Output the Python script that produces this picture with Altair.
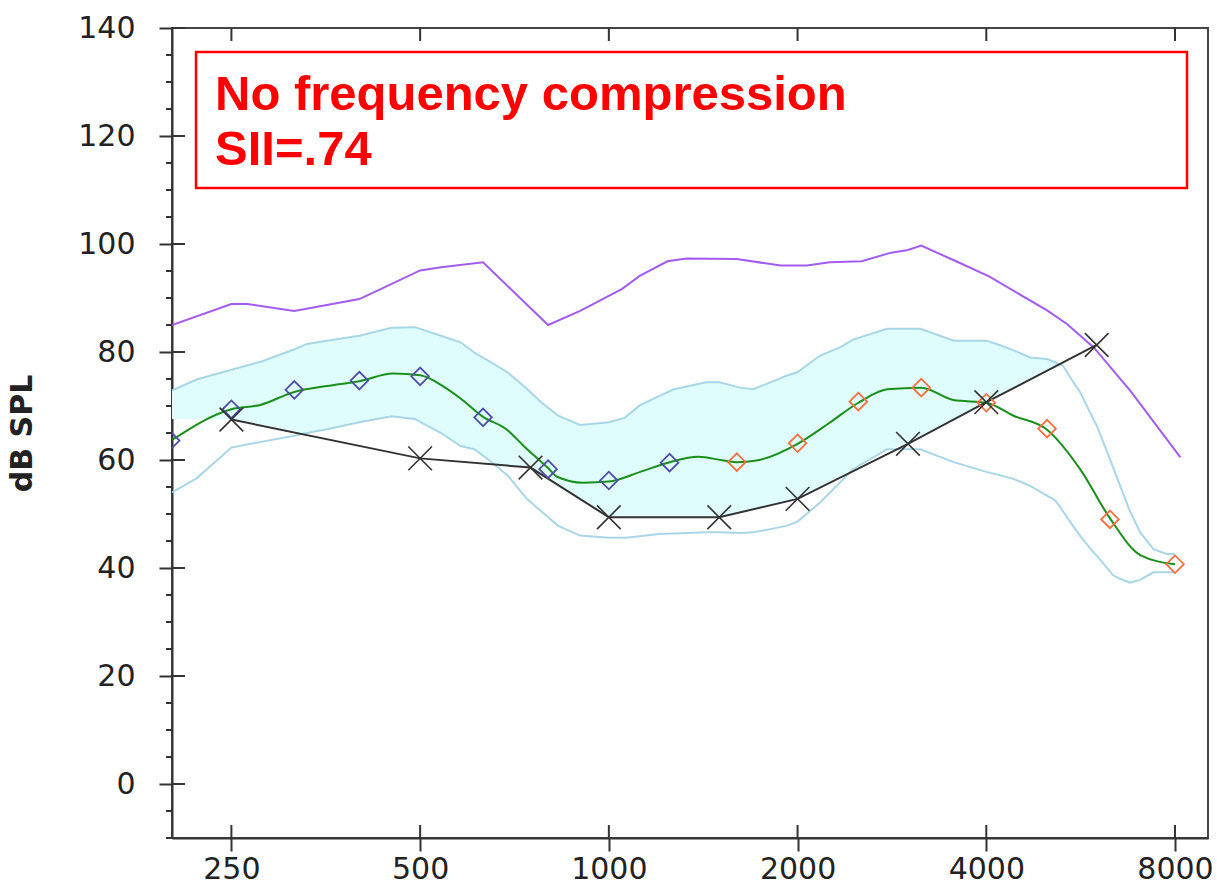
import altair as alt
import pandas as pd

# ---------------- data (frequency in Hz, level in dB SPL) -------------
band_freq = [201, 220, 250, 280, 315, 330, 355, 400, 450, 490,
             540, 580, 610, 655, 690, 740, 780, 830, 900, 1000,
             1060, 1120, 1200, 1270, 1430, 1500, 1620, 1700, 1920, 2000,
             2170, 2350, 2450, 2780, 3000, 3140, 3550, 4000, 4200, 4420,
             4700, 5000, 5150, 5230, 5300, 5500, 5650, 5930, 6000, 6380,
             6540, 6780, 7040, 7390, 7760, 8000]
band_upper = [72.9, 74.9, 76.7, 78.3, 80.5, 81.5, 82.1, 83.0, 84.5, 84.6,
              83.0, 81.8, 79.9, 77.8, 76.2, 73.2, 70.7, 68.2, 66.5, 67.0,
              67.8, 70.1, 71.8, 73.1, 74.4, 74.4, 73.4, 73.1, 75.6, 76.3,
              79.3, 81.0, 82.3, 84.3, 84.3, 84.3, 82.1, 82.1, 81.3, 80.3,
              79.0, 78.7, 78.1, 77.7, 77.5, 74.5, 72.5, 67.5, 66.4, 58.5,
              55.2, 50.5, 46.6, 43.5, 42.6, 42.6]
band_lower = [54.0, 56.6, 62.3, 63.4, 64.5, 65.0, 65.7, 67.0, 68.1, 67.6,
              65.0, 62.6, 62.0, 59.3, 57.1, 52.8, 50.5, 47.8, 46.0, 45.6,
              45.6, 45.9, 46.3, 46.4, 46.6, 46.6, 46.5, 46.6, 47.8, 48.6,
              52.1, 56.1, 58.3, 62.0, 62.0, 62.0, 59.6, 57.8, 57.2, 56.5,
              55.2, 53.4, 52.5, 51.5, 50.5, 47.8, 45.9, 42.9, 42.3, 38.6,
              38.0, 37.3, 37.8, 39.2, 39.2, 39.2]
# lower edge of the shaded (audible) part of the band; None where nothing is shaded
audible_floor = [67.6, 67.6, 67.5, 66.3, 65.1, 65.0, 65.7, 67.0, 68.1, 67.6,
                 65.0, 62.6, 62.0, 59.3, 59.0, 58.7, 57.3, 55.4, 52.8, 49.4,
                 49.4, 49.4, 49.4, 49.4, 49.4, 49.4, 50.3, 50.9, 52.3, 52.8,
                 54.9, 56.9, 58.3, 62.0, 63.0, 64.2, 67.5, 70.7, 71.9, 73.3,
                 74.8, 76.4, 77.2, 77.7, None, None, None, None, None, None,
                 None, None, None, None, None, None]

ucl_freq = [201, 250, 265, 315, 400, 430, 500, 540, 630, 800,
            900, 1050, 1120, 1240, 1330, 1600, 1880, 2070, 2250, 2530,
            2820, 3000, 3150, 3580, 4040, 5000, 5380, 5940, 6800, 8160]
ucl_db = [85.0, 88.9, 88.9, 87.6, 89.8, 91.5, 95.1, 95.7, 96.6, 85.0,
          87.6, 91.7, 94.1, 96.8, 97.3, 97.2, 96.0, 96.0, 96.6, 96.8,
          98.4, 98.9, 99.7, 96.8, 94.0, 87.7, 85.2, 80.8, 72.7, 60.5]

ltass_freq = [201, 250, 278, 315, 355, 400, 453, 500, 545, 580,
              630, 688, 730, 800, 827, 910, 1000, 1122, 1250, 1390,
              1525, 1600, 1720, 2000, 2250, 2500, 2780, 3150, 3545, 4000,
              4420, 5000, 5645, 6300, 7040, 8000]
ltass_db = [63.7, 69.4, 70.2, 72.6, 73.7, 74.6, 76.0, 75.7, 73.6, 71.4,
            68.0, 65.6, 62.7, 58.5, 56.9, 55.8, 56.0, 57.8, 59.6, 60.6,
            59.9, 59.6, 59.9, 63.0, 66.9, 70.6, 73.1, 73.4, 71.1, 70.6,
            68.2, 65.6, 58.3, 49.2, 42.4, 40.7]

marker_freq = [200, 250, 315, 400, 500, 630, 800, 1000, 1250,
               1600, 2000, 2500, 3150, 4000, 5000, 6300, 8000]
marker_db = [63.6, 69.4, 73.0, 74.7, 75.5, 67.9, 58.3, 56.2, 59.5,
             59.6, 63.1, 70.8, 73.4, 70.6, 65.8, 49.0, 40.7]
marker_group = ["low"] * 9 + ["high"] * 8

thresh_freq = [250, 500, 750, 1000, 1500, 2000, 3000, 4000, 6000]
thresh_db = [67.5, 60.3, 58.6, 49.4, 49.4, 52.8, 63.0, 70.7, 81.3]

x_ticks = [250, 500, 1000, 2000, 4000, 8000]
y_ticks = [0, 20, 40, 60, 80, 100, 120, 140]
y_minor = [-10, -5, 5, 10, 15, 25, 30, 35, 45, 50, 55, 65, 70, 75,
           85, 90, 95, 105, 110, 115, 125, 130, 135]
annotation_lines = ["No frequency compression", "SII=.74"]

# ---------------- chart ----------------
W, H = 1036, 810
xscale = alt.Scale(type="log", domain=[201, 9030])
yscale = alt.Scale(domain=[-10, 140], nice=False, zero=False)
xaxis = alt.Axis(values=x_ticks, format="d", title=None, grid=False,
                 tickSize=13, tickWidth=2, tickColor="#333", domainColor="#333",
                 domainWidth=2, labelFont="DejaVu Sans", labelFontSize=30,
                 labelColor="#222", labelPadding=3, labelFlush=False,
                 labelOverlap=False)
yaxis = alt.Axis(values=y_ticks, title="dB SPL", grid=False,
                 tickSize=13, tickWidth=2, tickColor="#333", domainColor="#333",
                 domainWidth=2, labelFont="DejaVu Sans", labelFontSize=30,
                 labelColor="#222", labelPadding=24, labelFlush=False,
                 labelOverlap=False, titleFont="DejaVu Sans", titleFontSize=30,
                 titleFontWeight="bold", titleColor="#222", titleAngle=270,
                 titleX=-150, titleY=405, titleAlign="center",
                 titleBaseline="middle")

X = alt.X("freq:Q", scale=xscale, axis=xaxis)
Y = alt.Y("db:Q", scale=yscale, axis=yaxis)

band = pd.DataFrame({"freq": band_freq, "db": band_upper, "lower": band_lower,
                     "floor": audible_floor})
fill_df = band.dropna(subset=["floor"])

fill = alt.Chart(fill_df).mark_area(color="#dffdfd", opacity=1, clip=True).encode(
    x=X, y=Y, y2=alt.Y2("floor:Q"))
upper_line = alt.Chart(band).mark_line(color="#a9d6e6", strokeWidth=2, clip=True).encode(
    x=X, y=Y)
lower_line = alt.Chart(band).mark_line(color="#a9d6e6", strokeWidth=2, clip=True).encode(
    x=X, y=alt.Y("lower:Q", scale=yscale, axis=yaxis))

ucl = alt.Chart(pd.DataFrame({"freq": ucl_freq, "db": ucl_db})).mark_line(
    color="#a35cf0", strokeWidth=2, clip=True).encode(x=X, y=Y)

ltass = alt.Chart(pd.DataFrame({"freq": ltass_freq, "db": ltass_db})).mark_line(
    color="#1a8f1a", strokeWidth=2, interpolate="monotone", clip=True).encode(x=X, y=Y)

thresh_df = pd.DataFrame({"freq": thresh_freq, "db": thresh_db})
thresh_line = alt.Chart(thresh_df).mark_line(color="#333333", strokeWidth=2).encode(x=X, y=Y)
thresh_pts = alt.Chart(thresh_df).mark_point(
    shape="M-1,-1L1,1M-1,1L1,-1", size=560, filled=False, stroke="#333333",
    strokeWidth=1.6, opacity=1).encode(x=X, y=Y)

markers = alt.Chart(pd.DataFrame({"freq": marker_freq, "db": marker_db,
                                  "grp": marker_group})).mark_point(
    shape="diamond", size=310, filled=False, strokeWidth=1.8, opacity=1, clip=True).encode(
    x=X, y=Y,
    color=alt.Color("grp:N", scale=alt.Scale(domain=["low", "high"],
                                             range=["#4e4ea8", "#f5703f"]), legend=None))

# tick decorations (inner halves of the crossing ticks, top ticks, minor y ticks)
xt = pd.DataFrame({"freq": x_ticks})
yt = pd.DataFrame({"db": y_ticks})
ym = pd.DataFrame({"db": y_minor})
x_in = alt.Chart(xt).mark_rule(color="#333", strokeWidth=2).encode(
    x=X, y=alt.value(H), y2=alt.value(H - 13))
x_top = alt.Chart(xt).mark_rule(color="#333", strokeWidth=2).encode(
    x=X, y=alt.value(0), y2=alt.value(13))
y_in = alt.Chart(yt).mark_rule(color="#333", strokeWidth=2).encode(
    y=Y, x=alt.value(0), x2=alt.value(13))
y_min = alt.Chart(ym).mark_rule(color="#333", strokeWidth=2).encode(
    y=Y, x=alt.value(-6), x2=alt.value(0))

one = pd.DataFrame({"k": [0]})
box = alt.Chart(one).mark_rect(fill="#ffffff", stroke="#ff0000", strokeWidth=2.5).encode(
    x=alt.value(24), x2=alt.value(1015), y=alt.value(24), y2=alt.value(160))
label = alt.Chart(one).mark_text(
    align="left", baseline="alphabetic", font="Liberation Sans", fontSize=49,
    fontWeight="bold", color="#ff0000", lineHeight=55).encode(
    x=alt.value(43), y=alt.value(82), text=alt.value(annotation_lines))

chart = alt.layer(
    fill, upper_line, lower_line, ucl, ltass, thresh_line, markers, thresh_pts,
    x_in, x_top, y_in, y_min, box, label
).properties(
    width=W, height=H,
    padding={"left": 172, "top": 28, "right": 9, "bottom": 58},
    autosize=alt.AutoSizeParams(type="none"),
    background="#ffffff",
).configure_view(stroke="#444444", strokeWidth=2)

chart.save("out.html", embed_options={"renderer": "svg", "actions": False})
